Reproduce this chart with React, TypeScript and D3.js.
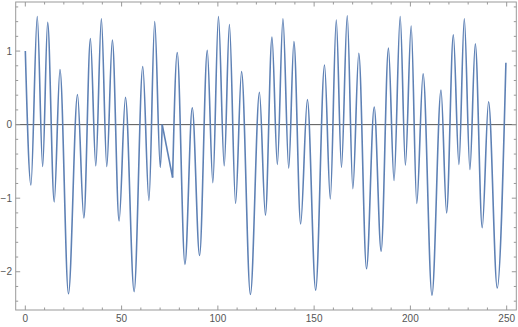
import React from "react";
import * as d3 from "d3";

// Local extrema (x, y)
const segAx = [0, 2.9, 6.2, 9.0, 11.6, 15.0, 18.0, 22.4, 27.1, 30.4, 33.8, 36.6, 39.5, 42.3, 45.2, 48.7, 52.0, 56.5, 61.0, 64.2, 67.2, 70.1, 71.1];
const segAy = [1.0, -0.82, 1.47, -0.57, 1.39, -1.05, 0.75, -2.3, 0.41, -1.27, 1.17, -0.56, 1.44, -0.57, 1.15, -1.31, 0.37, -2.27, 0.79, -1.03, 1.4, -0.58, 0.0];
const gapX = [71.1, 76.5];
const gapY = [0.0, -0.72];
const segBx = [76.5, 78.9, 82.9, 86.7, 90.5, 94.5, 97.4, 100.3, 103.3, 106.0, 109.2, 112.3, 116.9, 121.6, 124.7, 128.1, 130.9, 133.8, 136.8, 139.5, 143.0, 146.5, 150.8, 155.4, 158.4, 161.5, 164.2, 167.2, 170.1, 173.2, 177.2, 181.2, 184.8, 188.6, 191.5, 194.7, 197.4, 200.4, 203.3, 206.6, 211.2, 215.9, 218.8, 222.3, 225.2, 228.0, 230.9, 233.7, 237.3, 240.6, 245.1, 249.6];
const segBy = [-0.72, 0.98, -1.9, 0.23, -1.78, 1.01, -0.79, 1.47, -0.56, 1.36, -1.07, 0.72, -2.31, 0.44, -1.23, 1.19, -0.54, 1.44, -0.59, 1.13, -1.35, 0.34, -2.25, 0.81, -1.01, 1.42, -0.58, 1.48, -0.87, 0.97, -1.96, 0.24, -1.72, 1.04, -0.76, 1.47, -0.55, 1.34, -1.07, 0.69, -2.32, 0.47, -1.2, 1.22, -0.54, 1.44, -0.61, 1.1, -1.4, 0.31, -2.22, 0.84];

const xMajor = [0, 50, 100, 150, 200, 250];
const yMajor = [-2, -1, 0, 1];

export default function App() {
  const W = 518, H = 327;
  const L = 15.7, R = 516.3, T = 2, B = 310;
  const x = d3.scaleLinear().domain([-5, 255]).range([L, R]);
  const y = d3.scaleLinear().domain([-2.52, 1.667]).range([B, T]);

  const curve = d3.line<[number, number]>().x(d => x(d[0])).y(d => y(d[1])).curve(d3.curveMonotoneX);
  const straight = d3.line<[number, number]>().x(d => x(d[0])).y(d => y(d[1]));
  const A = segAx.map((v, i) => [v, segAy[i]] as [number, number]);
  const G = gapX.map((v, i) => [v, gapY[i]] as [number, number]);
  const Bs = segBx.map((v, i) => [v, segBy[i]] as [number, number]);

  const xMinor = d3.range(-0, 251, 10).filter(v => v % 50 !== 0);
  const yMinor = d3.range(-24, 17, 2).map(v => v / 10).filter(v => Math.abs(v - Math.round(v)) > 1e-6);

  const frame = "#999";
  const text = "#555";
  const stroke = "#5E81B5";

  return (
    <svg width={W} height={H} style={{ position: "absolute", left: 0, top: 0 }} fontFamily="Liberation Sans, Arial, sans-serif">
      <rect x={0} y={0} width={W} height={H} fill="#fff" />
      <defs>
        <clipPath id="pc"><rect x={L} y={T} width={R - L} height={B - T} /></clipPath>
      </defs>
      {/* zero axis */}
      <line x1={L} x2={R} y1={y(0)} y2={y(0)} stroke="#555" strokeWidth={1} />
      <g clipPath="url(#pc)" fill="none" stroke={stroke} strokeWidth={1.6} strokeLinejoin="round">
        <path d={curve(A) || ""} />
        <path d={straight(G) || ""} />
        <path d={curve(Bs) || ""} />
      </g>
      {/* frame */}
      <rect x={L} y={T} width={R - L} height={B - T} fill="none" stroke={frame} strokeWidth={1} />
      {/* x ticks */}
      {xMajor.map(v => (
        <g key={"xm" + v}>
          <line x1={x(v)} x2={x(v)} y1={B} y2={B - 4.5} stroke={frame} />
          <line x1={x(v)} x2={x(v)} y1={T} y2={T + 4.5} stroke={frame} />
          <text x={x(v)} y={322} fontSize={10} fill={text} textAnchor="middle">{v}</text>
        </g>
      ))}
      {xMinor.map(v => (
        <g key={"xn" + v}>
          <line x1={x(v)} x2={x(v)} y1={B} y2={B - 2.5} stroke={frame} />
          <line x1={x(v)} x2={x(v)} y1={T} y2={T + 2.5} stroke={frame} />
        </g>
      ))}
      {yMajor.map(v => (
        <g key={"ym" + v}>
          <line x1={L} x2={L + 4.5} y1={y(v)} y2={y(v)} stroke={frame} />
          <line x1={R} x2={R - 4.5} y1={y(v)} y2={y(v)} stroke={frame} />
          <text x={12} y={y(v) + 3.5} fontSize={10} fill={text} textAnchor="end">{v < 0 ? "\u2212" + Math.abs(v) : v}</text>
        </g>
      ))}
      {yMinor.map(v => (
        <g key={"yn" + v}>
          <line x1={L} x2={L + 2.5} y1={y(v)} y2={y(v)} stroke={frame} />
          <line x1={R} x2={R - 2.5} y1={y(v)} y2={y(v)} stroke={frame} />
        </g>
      ))}
    </svg>
  );
}
